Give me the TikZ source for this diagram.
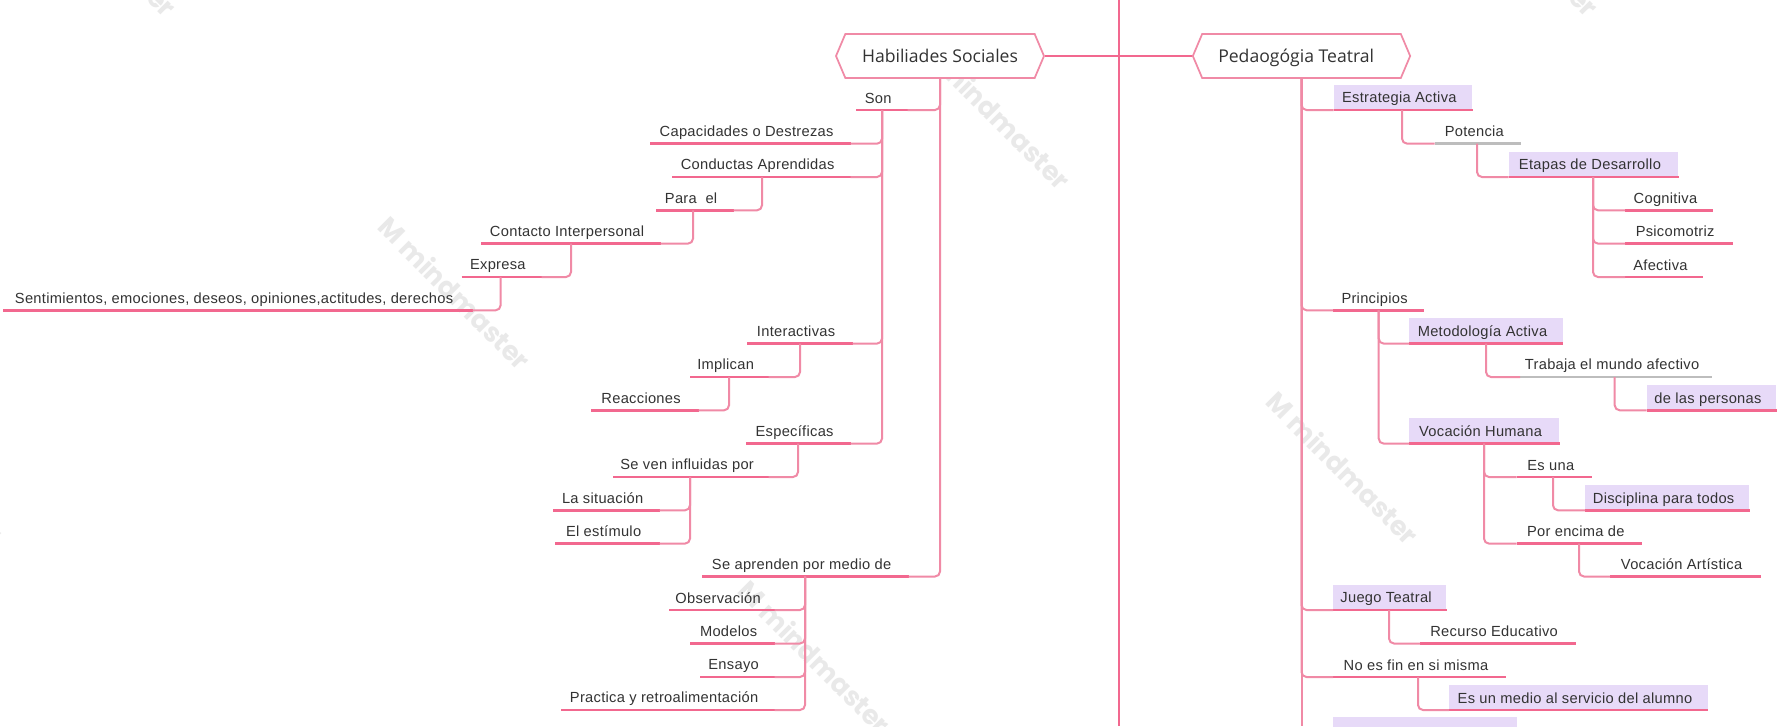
\documentclass[tikz,border=0pt]{standalone}
\usepackage{fontspec}
\setmainfont[LetterSpace=2]{Liberation Sans}
\newfontfamily\titlefont{Open Sans}
\newfontfamily\wmfont{Poppins}
\usetikzlibrary{shapes.symbols}
\definecolor{pinkline}{HTML}{F2688F}
\definecolor{pinkedge}{HTML}{F08AA6}
\definecolor{lilac}{HTML}{E7DAF8}
\definecolor{greyline}{HTML}{BDBDBD}
\definecolor{inkc}{HTML}{333333}
\definecolor{wmgrey}{HTML}{E9E9E9}
\tikzset{
  x=0.75pt,y=-0.75pt,
  topicbox/.style={inner sep=0pt,minimum height=18.75pt,anchor=south west,text=inkc,font=\fontsize{11}{13}\selectfont},
  plain/.style={},
  filled/.style={fill=lilac},
  under/.style={draw=pinkline,line width=1.9pt},
  undergrey/.style={draw=greyline,line width=1.9pt},
  link/.style={draw=pinkedge,line width=1.5pt,rounded corners=3.75pt},
  trunk/.style={draw=pinkline,line width=1.7pt},
  mainnode/.style={shape=signal,signal to=east and west,signal pointer angle=134,draw=pinkedge,fill=white,line width=1.3pt,
    inner sep=0pt,minimum height=33pt,text=inkc,text height=11.5pt,text depth=1.5pt,font=\titlefont\fontsize{13.2}{15}\selectfont},
  wmark/.style={rotate=-45,text=wmgrey,font=\wmfont\bfseries\fontsize{20}{24}\selectfont,inner sep=0pt},
}
% \topic[box style]{name}{x1}{x2}{y}{text}
\newcommand\topic[6][plain]{%
  \pgfmathsetmacro\wid{(#4-#3)*0.75}%
  \node[topicbox,#1] (#2) at (#3,#5) {\makebox[\wid pt]{\hspace*{7pt}\hfill\rule[-1.75pt]{0pt}{12.3pt}#6\hfill\hspace*{12.5pt}}};%
  \draw[under] (#2.south west) -- (#2.south east);%
}
\newcommand\topicg[5]{%
  \pgfmathsetmacro\wid{(#3-#2)*0.75}%
  \node[topicbox] (#1) at (#2,#4) {\makebox[\wid pt]{\hspace*{7pt}\hfill\rule[-1.75pt]{0pt}{12.3pt}#5\hfill\hspace*{12.5pt}}};%
  \draw[undergrey] (#1.south west) -- (#1.south east);%
}
\begin{document}
\begin{tikzpicture}
\useasboundingbox (0,0) rectangle (1785,726);
\clip (0,0) rectangle (1785,726);
\fill[white] (0,0) rectangle (1785,726);
% watermarks
\foreach \nm/\px/\py in {wa/995/113,wb/455/293,wc/1343/468,wd/815/657,we/1523/-60,wf/101/-60,wg/-72/466}
  \node[wmark] (\nm) at (\px,\py) {M mindmaster};
% centre line
\coordinate (rootTop) at (1118.7,0);
\coordinate (rootMid) at (1118.7,56);
\coordinate (rootEnd) at (1118.7,726);
\coordinate (pEnd) at (1301.5,726);
\draw[trunk] (rootTop) -- (rootEnd);
\node[mainnode,minimum width=156pt] (Hab) at (940,56) {Habiliades Sociales};
\node[mainnode,minimum width=163pt] (Ped) at (1301.5,56) {Pedaogógia Teatral\hspace*{8pt}};
\draw[trunk] (Hab.east) -- (rootMid);
\draw[trunk] (Ped.west) -- (rootMid);

% left side
\topic{Son}{856}{907}{110}{Son}
\topic{Cap}{650}{850}{143.7}{Capacidades o Destrezas}
\topic{Cond}{672}{850}{177}{Conductas Aprendidas}
\topic{Para}{656}{733}{210.3}{Para\ \ el}
\topic{Cont}{481}{660}{243.6}{Contacto Interpersonal}
\topic{Expr}{461.5}{541}{277}{Expresa}
\topic{Sent}{3}{472}{310.3}{Sentimientos, emociones, deseos, opiniones,actitudes, derechos}
\topic{Inter}{747}{852}{343.6}{Interactivas}
\topic{Impl}{690}{768}{377}{Implican}
\topic{Reac}{591}{698}{410.3}{Reacciones}
\topic{Espe}{746}{850}{443.6}{Específicas}
\topic{Sven}{613}{768}{477}{Se ven influidas por}
\topic{Lasi}{553}{659}{510.3}{La situación}
\topic{Eles}{555}{659}{543.6}{El estímulo}
\topic{Sapr}{702}{908}{576.5}{Se aprenden por medio de}
\topic{Obse}{669}{774}{610}{Observación}
\topic{Mode}{690}{774}{643.5}{Modelos}
\topic{Ensa}{700}{774}{677}{Ensayo}
\topic{Prac}{561}{774}{710}{Practica y retroalimentación}

\coordinate (bSon) at (882,110);
\coordinate (bCond) at (762,177);
\coordinate (bPara) at (693,210.3);
\coordinate (bCont) at (571,243.6);
\coordinate (bExpr) at (500.6,277);
\coordinate (bInter) at (800,343.6);
\coordinate (bImpl) at (729,377);
\coordinate (bEspe) at (798,443.6);
\coordinate (bSven) at (690,477);
\coordinate (bSapr) at (805,576.5);

\draw[link] (Hab.south) |- (Son.south east);
\draw[link] (Hab.south) |- (Sapr.south east);
\foreach \c in {Cap,Cond,Inter,Espe} \draw[link] (bSon) |- (\c.south east);
\draw[link] (bCond) |- (Para.south east);
\draw[link] (bPara) |- (Cont.south east);
\draw[link] (bCont) |- (Expr.south east);
\draw[link] (bExpr) |- (Sent.south east);
\draw[link] (bInter) |- (Impl.south east);
\draw[link] (bImpl) |- (Reac.south east);
\draw[link] (bEspe) |- (Sven.south east);
\draw[link] (bSven) |- (Lasi.south east);
\draw[link] (bSven) |- (Eles.south east);
\foreach \c in {Obse,Mode,Ensa,Prac} \draw[link] (bSapr) |- (\c.south east);

% right side
\topic[filled]{Estr}{1333.5}{1472}{110}{Estrategia Activa}
\topicg{Pote}{1434.7}{1520.7}{143.6}{Potencia}
\topic[filled]{Etap}{1508.7}{1678}{177}{Etapas de Desarrollo}
\topic{Cogn}{1625}{1712.7}{210.3}{Cognitiva}
\topic{Psic}{1625}{1732}{243.6}{Psicomotriz}
\topic{Afec}{1625}{1702.7}{277}{Afectiva}
\topic{Prin}{1333}{1423}{310.3}{Principios}
\topic[filled]{Meto}{1409}{1562.7}{343.6}{Metodología Activa}
\topicg{Trab}{1520}{1711}{377}{Trabaja el mundo afectivo}
\topic[filled]{Dela}{1646.7}{1776}{410.3}{de las personas}
\topic[filled]{Voca}{1409}{1559}{443.6}{Vocación Humana}
\topic{Esun}{1516.7}{1591.7}{477}{Es una}
\topic[filled]{Disc}{1585}{1749}{510.3}{Disciplina para todos}
\topic{Pore}{1516.7}{1641.7}{543.6}{Por encima de}
\topic{Voar}{1610}{1760}{576.5}{Vocación Artística}
\topic[filled]{Jueg}{1333}{1446}{610}{Juego Teatral}
\topic{Recu}{1420}{1575}{643.5}{Recurso Educativo}
\topic{Noes}{1333}{1505.7}{677}{No es fin en si misma}
\topic[filled]{Medi}{1449}{1707.7}{710}{Es un medio al servicio del alumno}
\node[fill=lilac,inner sep=0pt,minimum width=138pt,minimum height=18.75pt,anchor=north west] (Next) at (1332.7,716.7) {};

\coordinate (bEstr) at (1402,110);
\coordinate (bPote) at (1477,143.6);
\coordinate (bEtap) at (1593,177);
\coordinate (bPrin) at (1378.7,310.3);
\coordinate (bMeto) at (1486,343.6);
\coordinate (bTrab) at (1614.7,377);
\coordinate (bVoca) at (1484,443.6);
\coordinate (bEsun) at (1553,477);
\coordinate (bPore) at (1579,543.6);
\coordinate (bJueg) at (1389,610);
\coordinate (bNoes) at (1418,677);

\draw[link] (Ped.south) -- (pEnd);
\foreach \c in {Estr,Prin,Jueg,Noes} \draw[link] (Ped.south) |- (\c.south west);
\draw[link] (bEstr) |- (Pote.south west);
\draw[link] (bPote) |- (Etap.south west);
\foreach \c in {Cogn,Psic,Afec} \draw[link] (bEtap) |- (\c.south west);
\draw[link] (bPrin) |- (Meto.south west);
\draw[link] (bPrin) |- (Voca.south west);
\draw[link] (bMeto) |- (Trab.south west);
\draw[link] (bTrab) |- (Dela.south west);
\draw[link] (bVoca) |- (Esun.south west);
\draw[link] (bVoca) |- (Pore.south west);
\draw[link] (bEsun) |- (Disc.south west);
\draw[link] (bPore) |- (Voar.south west);
\draw[link] (bJueg) |- (Recu.south west);
\draw[link] (bNoes) |- (Medi.south west);
\end{tikzpicture}
\end{document}
